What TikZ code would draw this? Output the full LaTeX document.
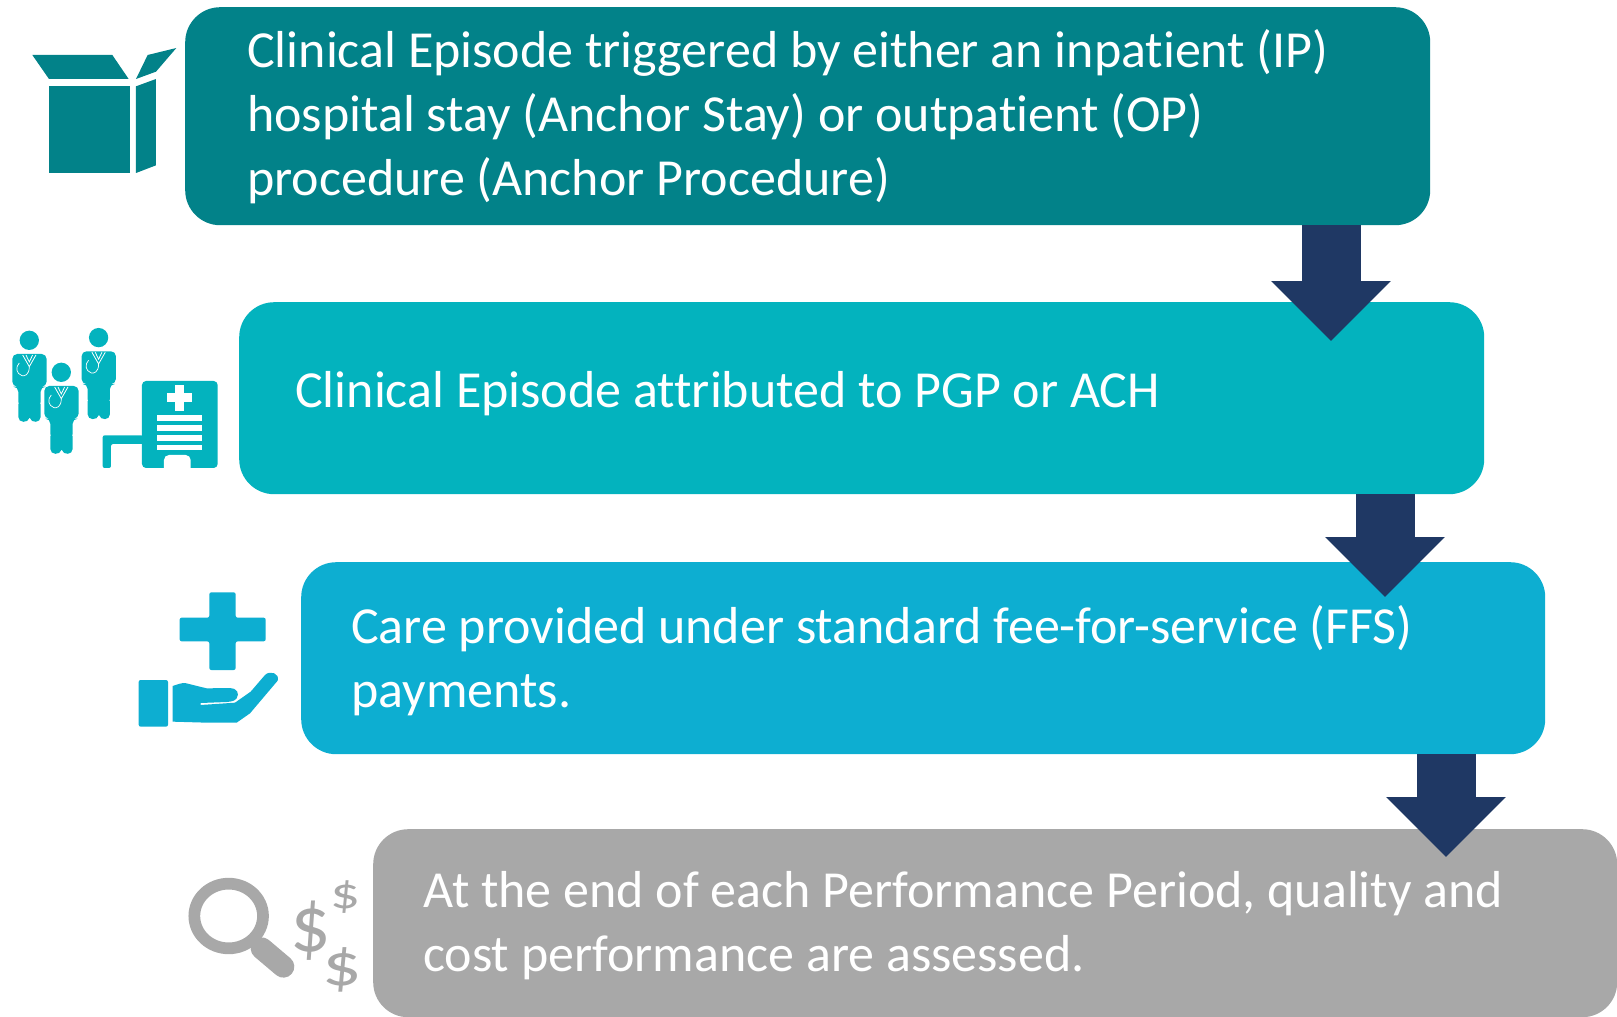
\documentclass[tikz,border=0pt]{standalone}
\usepackage{fontspec}
\setmainfont[Ligatures=NoCommon]{Carlito}
\usetikzlibrary{arrows.meta}
\definecolor{cA}{HTML}{028289}
\definecolor{cB}{HTML}{03B3BE}
\definecolor{cC}{HTML}{0DAED1}
\definecolor{cD}{HTML}{A8A8A8}
\definecolor{cArrow}{HTML}{1F3864}
\tikzset{
  stepbox/.style={fill=#1,rounded corners=35pt,minimum width=1245pt,inner sep=0pt,anchor=north west},
  steptext/.style={text=white,anchor=west,align=left,inner sep=0pt,font=\fontsize{52}{64}\selectfont},
  blockarrow/.style={line width=59pt,draw=cArrow,-{Triangle[length=60pt,width=116pt,fill=cArrow]}},
  zoomA/.style={x=0.33333pt,y=-0.33333pt},
  zoomB/.style={x=0.33333pt,y=-0.33333pt,shift={(120pt,-570pt)}},
}
\newcommand{\doctorAt}[2]{%
  \begin{scope}[shift={(#1pt,-#2pt)}]
    \fill[cB] (0,0) ellipse[x radius=29,y radius=29];
    \fill[cB,rounded corners=5pt] (-51,41) -- (52,41) -- (52,139) -- (34,139) -- (34,200) -- (-33,200) -- (-33,139) -- (-51,139) -- cycle;
    \fill[cB] (-33,190) -- (34,190) -- (34,230) .. controls (34,248) and (6,250) .. (1,232) .. controls (-4,250) and (-33,248) .. (-33,230) -- cycle;
    \draw[white,line width=0.8pt] (-20,44) -- (0,79) -- (20,44) (-10,44) -- (0,65) -- (10,44);
    \draw[white,line width=0.7pt] (0,79) .. controls (0,105) and (-15,108) .. (-22,106) .. controls (-40,100) and (-42,80) .. (-30,68);
  \end{scope}}
\begin{document}
\begin{tikzpicture}[x=1pt,y=-1pt]
\useasboundingbox (0,0) rectangle (1617,1017);
\node[stepbox=cA,minimum height=218pt] (box1) at (185,7) {};
\node[stepbox=cB,minimum height=192pt] (box2) at (239,302) {};
\node[stepbox=cC,minimum height=192pt,minimum width=1244pt] (box3) at (301,562) {};
\node[stepbox=cD,minimum height=188pt,minimum width=1244pt] (box4) at (373,829) {};
\node[steptext] (text1) at (247,117) {Clinical Episode triggered by either an inpatient (IP)\\hospital stay (Anchor Stay) or outpatient (OP)\\procedure (Anchor Procedure)};
\node[steptext] (text2) at (295,394) {Clinical Episode attributed to PGP or ACH};
\node[steptext] (text3) at (351,661) {Care provided under standard fee-for-service (FFS)\\payments.};
\node[steptext] (text4) at (423,926) {At the end of each Performance Period, quality and\\cost performance are assessed.};
\coordinate (tip1) at (1331,341);
\coordinate (tip2) at (1385,597);
\coordinate (tip3) at (1446,857);
\draw[blockarrow] (box1.south -| tip1) -- (tip1);
\draw[blockarrow] (box2.south -| tip2) -- (tip2);
\draw[blockarrow] (box3.south -| tip3) -- (tip3);
% box icon
\begin{scope}[zoomA]
  \fill[cA] (97,165) -- (337,165) -- (386,237) -- (147,237) -- cycle;
  \fill[cA] (408,237) -- (443,165) -- (529,144) -- (468,215) -- cycle;
  \fill[cA] (147,258) rectangle (390,519);
  \fill[cA] (408,259) -- (468,237) -- (468,496) -- (408,519) -- cycle;
\end{scope}
% doctors and hospital
\begin{scope}[zoomA]
  \doctorAt{29.3}{340.3}
  \doctorAt{61.3}{372.3}
  \doctorAt{98.6}{337.6}
  \fill[cB,rounded corners=4pt] (426,1143) -- (653,1143) -- (653,1404) -- (426,1404) -- cycle;
  \fill[cB,rounded corners=2pt] (308,1306) -- (430,1306) -- (430,1332) -- (333,1332) -- (333,1404) -- (308,1404) -- cycle;
  \fill[white] (501,1180) rectangle (577,1206);
  \fill[white] (526,1155) rectangle (552,1234);
  \fill[white] (472,1246) rectangle (605,1264);
  \fill[white] (472,1275) rectangle (605,1292);
  \fill[white] (472,1305) rectangle (605,1322);
  \fill[white] (472,1335) rectangle (605,1350);
  \fill[white,rounded corners=5pt] (492,1430) -- (492,1365) -- (572,1365) -- (572,1430) -- cycle;
\end{scope}
% hand and cross
\begin{scope}[zoomB]
  \fill[cC,rounded corners=2pt] (179,143) -- (268,143) -- (268,67) -- (347,67) -- (347,143) -- (437,143) -- (437,214) -- (347,214) -- (347,300) -- (268,300) -- (268,214) -- (179,214) -- cycle;
  \fill[cC,rounded corners=2pt] (56,330) rectangle (144,470);
  \fill[cC] (158,348) .. controls (175,342) and (185,339) .. (195,339) -- (260,355) -- (330,354) .. controls (350,354) and (360,370) .. (350,385) .. controls (345,392) and (335,395) .. (320,396) -- (242,399) -- (242,405) -- (345,398) -- (392,365) -- (435,315) .. controls (450,300) and (480,310) .. (473,332) -- (390,430) -- (350,458) -- (260,458) -- (158,455) -- cycle;
\end{scope}
% magnifier and dollars
\begin{scope}[zoomB]
  \draw[cD,line width=11.7pt] (326,1038) ellipse[x radius=103,y radius=97];
  \draw[cD,line width=22pt,line cap=round] (425,1135) -- (490,1190);
  \node[text=cD,inner sep=0pt,font=\fontsize{80}{80}\selectfont] (dollarA) at (572,1082) {\$};
  \node[text=cD,inner sep=0pt,font=\fontsize{44}{44}\selectfont] (dollarB) at (678,980) {\scalebox{1.35}[1]{\$}};
  \node[text=cD,inner sep=0pt,font=\fontsize{60}{60}\selectfont] (dollarC) at (668,1200) {\scalebox{1.3}[1]{\$}};
\end{scope}
\end{tikzpicture}
\end{document}
